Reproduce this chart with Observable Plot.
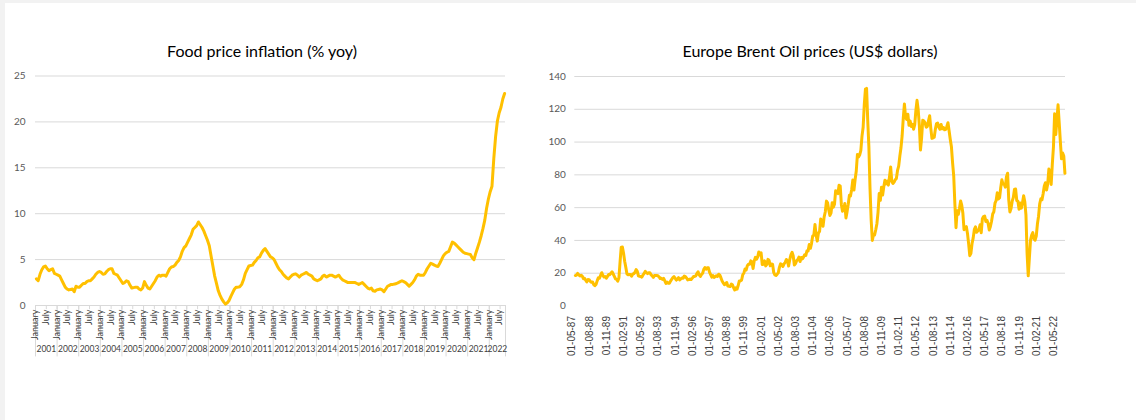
<!DOCTYPE html>
<html><head><meta charset="utf-8">
<script src="https://cdn.jsdelivr.net/npm/d3@7"></script>
<script src="https://cdn.jsdelivr.net/npm/@observablehq/plot@0.6"></script>
<style>
body{margin:0;background:#fff;}
#wrap{position:relative;width:1136px;height:420px;overflow:hidden;background:#fff;}
#edge{position:absolute;left:0;top:0;width:5px;height:420px;background:#f2f2f2;}
#edgeTop{position:absolute;left:0;top:0;width:1136px;height:3px;background:#f2f2f2;}
.title{position:absolute;font-family:Lato,sans-serif;font-size:16px;line-height:20px;color:#000;white-space:nowrap;transform:translateX(-50%);}
.chart{position:absolute;top:0;}
</style></head><body>
<div id="wrap">
 <div id="edge"></div><div id="edgeTop"></div>
 <div class="title" style="left:262px;top:41px">Food price inflation (% yoy)</div>
 <div class="title" style="left:810px;top:41px">Europe Brent Oil prices (US$ dollars)</div>
 <div class="chart" id="c1" style="left:0"></div>
 <div class="chart" id="c2" style="left:520px"></div>
</div>
<script>
// ---- Food price inflation, % yoy, monthly from January 2001 ----
const foodYears = ["2001","2002","2003","2004","2005","2006","2007","2008","2009","2010","2011","2012","2013","2014","2015","2016","2017","2018","2019","2020","2021","2022"];
const foodMonthLabels = ["January","July"];
const foodInflation = [
 2.9,2.7,3.4,3.9,4.2,4.3,4.0,3.8,3.9,4.0,3.5,3.4,
 3.3,3.2,2.8,2.4,2.0,1.8,1.7,1.75,1.8,1.5,2.1,2.0,
 2.0,2.2,2.4,2.4,2.6,2.7,2.7,2.9,3.1,3.4,3.6,3.7,
 3.6,3.4,3.45,3.7,3.9,4.0,4.0,3.5,3.4,3.3,3.0,2.7,
 2.4,2.5,2.7,2.6,2.2,1.9,1.95,2.0,2.0,1.8,1.7,1.9,
 2.6,2.2,1.9,1.8,2.1,2.4,2.7,3.1,3.3,3.2,3.3,3.3,
 3.2,3.6,4.0,4.2,4.25,4.4,4.7,4.9,5.3,5.9,6.3,6.5,
 6.9,7.3,7.7,8.3,8.5,8.7,9.1,8.8,8.5,8.1,7.6,7.1,
 6.5,5.4,4.3,3.2,2.4,1.6,1.1,0.7,0.4,0.15,0.3,0.55,
 1.0,1.4,1.8,2.0,2.0,2.05,2.3,2.8,3.5,3.9,4.3,4.35,
 4.4,4.7,4.9,5.2,5.3,5.7,6.0,6.2,5.9,5.6,5.3,5.2,
 5.0,4.6,4.2,3.9,3.7,3.4,3.2,3.0,2.9,3.1,3.3,3.4,
 3.45,3.3,3.1,3.3,3.4,3.5,3.6,3.4,3.3,3.2,2.9,2.8,
 2.7,2.8,2.9,3.2,3.3,3.1,3.2,3.3,3.3,3.2,3.1,3.2,
 3.3,3.0,2.8,2.7,2.6,2.5,2.5,2.5,2.5,2.5,2.4,2.3,
 2.4,2.5,2.3,2.1,1.9,1.8,1.9,1.6,1.55,1.7,1.75,1.8,
 1.7,1.5,1.8,2.1,2.2,2.3,2.3,2.35,2.4,2.5,2.6,2.7,
 2.6,2.5,2.3,2.1,2.3,2.5,2.8,3.2,3.4,3.3,3.3,3.3,
 3.6,4.0,4.3,4.6,4.5,4.4,4.3,4.25,4.6,5.0,5.4,5.65,
 5.8,5.9,6.4,6.9,6.8,6.6,6.4,6.2,6.0,5.8,5.7,5.65,
 5.6,5.55,5.2,5.0,5.7,6.3,6.9,7.6,8.4,9.3,10.6,11.6,
 12.4,13.0,16.0,18.4,20.1,21.0,21.6,22.5,23.1
];
const foodTicks = [0,5,10,15,20,25];

// ---- Europe Brent spot price, US$, monthly from May 1987 ----
const brentTickLabels = ["01-05-87","01-08-88","01-11-89","01-02-91","01-05-92","01-08-93","01-11-94","01-02-96","01-05-97","01-08-98","01-11-99","01-02-01","01-05-02","01-08-03","01-11-04","01-02-06","01-05-07","01-08-08","01-11-09","01-02-11","01-05-12","01-08-13","01-11-14","01-02-16","01-05-17","01-08-18","01-11-19","01-02-21","01-05-22"];
const brentPrice = [
 18.58,18.86,19.86,18.98,18.31,18.76,18.17,16.70,
 16.94,15.80,14.71,16.11,16.00,15.07,14.50,14.66,13.08,12.45,13.13,15.33,
 17.17,16.90,18.70,20.32,18.63,17.67,17.98,16.95,18.08,19.19,19.06,20.05,
 20.87,19.51,18.04,16.55,16.27,15.18,17.25,27.13,35.92,36.02,32.33,27.28,
 23.57,19.54,19.08,19.18,19.19,18.17,19.40,19.77,20.50,22.21,21.11,18.41,
 18.16,18.05,17.63,18.92,19.89,21.16,20.25,19.74,20.27,20.26,19.05,18.35,
 17.45,18.63,18.60,18.57,18.48,17.71,16.75,16.90,16.25,16.81,15.35,13.78,
 14.55,13.95,13.89,15.20,16.30,17.29,17.88,16.97,15.80,16.27,17.30,15.94,
 16.57,17.02,16.96,18.29,17.97,17.04,15.94,16.11,16.45,16.18,17.00,17.93,
 18.00,18.34,19.82,20.92,18.94,18.03,19.24,20.00,22.32,23.41,22.45,23.38,
 23.27,20.61,19.09,17.57,18.56,17.49,17.84,18.49,18.06,19.40,18.86,17.13,
 15.22,14.06,13.03,13.34,14.36,12.13,12.06,11.88,13.36,12.95,11.12,9.80,
 11.09,10.26,12.47,15.27,15.26,15.86,19.08,20.16,22.58,22.00,24.59,25.49,
 25.53,27.50,27.04,22.85,27.53,29.67,28.52,29.85,32.99,31.18,32.43,25.32,
 25.50,27.52,24.47,25.44,28.45,27.69,24.50,25.66,25.54,20.48,18.94,18.60,
 19.42,20.28,23.70,25.73,25.35,24.08,25.74,26.65,28.40,27.54,24.34,28.33,
 31.18,32.77,30.61,25.00,25.86,27.65,28.35,29.89,27.11,29.61,28.75,29.81,
 31.28,30.86,33.63,33.59,37.57,35.18,38.22,42.74,43.20,49.78,43.11,39.60,
 44.51,45.48,53.10,51.88,48.65,54.35,57.52,63.98,62.91,58.54,55.24,56.86,
 62.99,60.21,62.06,70.26,69.78,68.56,73.67,73.23,61.96,57.81,58.76,62.47,
 53.68,57.56,62.05,67.49,67.21,71.05,76.93,70.76,77.17,82.34,92.41,90.93,
 92.18,94.99,103.64,109.07,122.80,132.32,132.72,113.24,97.23,71.58,52.45,39.95,
 43.44,43.32,46.54,50.18,57.30,68.61,64.44,72.51,67.65,72.77,76.66,74.46,
 76.17,73.75,78.83,84.82,75.95,74.76,75.58,77.04,77.84,82.67,85.28,91.45,
 96.52,103.72,114.64,123.26,114.99,113.83,116.97,110.22,112.83,109.55,110.77,107.87,
 110.69,119.33,125.45,119.75,110.34,95.16,102.62,113.36,112.86,111.71,109.06,109.49,
 112.96,116.05,108.47,102.25,102.56,102.92,107.93,111.28,111.60,109.08,107.79,110.76,
 108.12,108.90,107.48,107.76,109.54,111.80,106.77,101.61,97.09,87.43,79.44,62.34,
 47.76,58.10,55.89,59.52,64.08,61.48,56.56,46.52,47.62,48.43,44.27,38.01,
 30.70,32.18,38.21,41.58,46.74,48.25,44.95,45.84,46.57,49.52,44.73,53.31,
 54.58,54.87,51.59,52.31,50.33,46.37,48.48,51.70,56.15,57.51,62.71,64.37,
 69.08,65.32,66.02,72.11,76.98,74.41,74.25,72.53,78.89,81.03,64.75,57.36,
 59.41,63.96,66.14,71.23,71.32,64.22,63.92,59.04,62.83,59.71,63.21,67.31,
 63.65,55.66,32.01,18.38,29.38,40.27,43.24,44.74,40.91,40.19,42.69,49.99,
 54.77,62.28,65.41,64.81,68.53,73.16,75.17,70.75,74.49,83.54,81.05,74.17,
 86.51,97.13,117.25,104.58,113.34,122.71,111.93,100.45,89.76,93.33,91.42,80.92
];
const brentTicks = [0,20,40,60,80,100,120,140];

const GOLD = "#FFC000", GRID = "#d9d9d9", LABEL = "#595959";

// ---------- left chart ----------
const nFood = foodInflation.length;
const food = foodInflation.map((v, i) => ({m: i + 0.5, v}));
const yearBounds = foodYears.map((y, i) => i * 12).concat([nFood]);
const halfYearTicks = d3.range(0, nFood, 6);
const monthLabelData = halfYearTicks.map(m => ({m, label: foodMonthLabels[(m / 6) % 2]}));
const yearLabelData = foodYears.map((y, i) => ({y, c: (yearBounds[i] + yearBounds[i + 1]) / 2}));

const left = Plot.plot({
  width: 520, height: 400,
  marginLeft: 35, marginRight: 15, marginTop: 75.5, marginBottom: 95,
  style: {fontFamily: "Lato, sans-serif", fontSize: "10px", color: LABEL, background: "transparent", overflow: "visible"},
  x: {domain: [0, nFood], axis: null},
  y: {domain: [0, 25], ticks: foodTicks, tickSize: 0, tickPadding: 10, label: null},
  marks: [
    Plot.ruleY(foodTicks, {stroke: GRID, strokeWidth: 1}),
    Plot.ruleX(yearBounds, {y1: 0, y2: -5.6, stroke: GRID, strokeWidth: 1}),
    Plot.ruleX(halfYearTicks, {y1: 0, y2: -0.45, stroke: GRID, strokeWidth: 1}),
    Plot.line(food, {x: "m", y: "v", stroke: GOLD, strokeWidth: 3, strokeLinejoin: "round"}),
    Plot.text(monthLabelData, {x: d => d.m + 0.5, text: "label", frameAnchor: "bottom", dy: 4, dx: 1.5, rotate: -90, textAnchor: "end", fontSize: 9, fill: "#404040"}),
    Plot.text(yearLabelData, {x: "c", text: "y", frameAnchor: "bottom", dy: 46, fontSize: 8.5, fill: "#404040"})
  ]
});
document.getElementById("c1").appendChild(left);

// ---------- right chart ----------
const nBrent = brentPrice.length;
const brent = brentPrice.map((v, i) => ({m: i + 0.5, v}));
const brentLabelData = brentTickLabels.map((t, i) => ({t, m: i * 15 + 0.5}));

const right = Plot.plot({
  width: 616, height: 400,
  marginLeft: 54.3, marginRight: 71, marginTop: 76, marginBottom: 94.5,
  style: {fontFamily: "Lato, sans-serif", fontSize: "10px", color: LABEL, background: "transparent", overflow: "visible"},
  x: {domain: [0, nBrent], axis: null},
  y: {domain: [0, 140], ticks: brentTicks, tickSize: 0, tickPadding: 9, label: null},
  marks: [
    Plot.ruleY(brentTicks.filter(t => t > 0), {stroke: GRID, strokeWidth: 1}),
    Plot.line(brent, {x: "m", y: "v", stroke: GOLD, strokeWidth: 3, strokeLinejoin: "round"}),
    Plot.text(brentLabelData, {x: "m", text: "t", frameAnchor: "bottom", dy: 10, rotate: -90, textAnchor: "end", fontFamily: "Liberation Sans, Arial, sans-serif", fontSize: 10, fill: "#404040"})
  ]
});
document.getElementById("c2").appendChild(right);
</script>
</body></html>
